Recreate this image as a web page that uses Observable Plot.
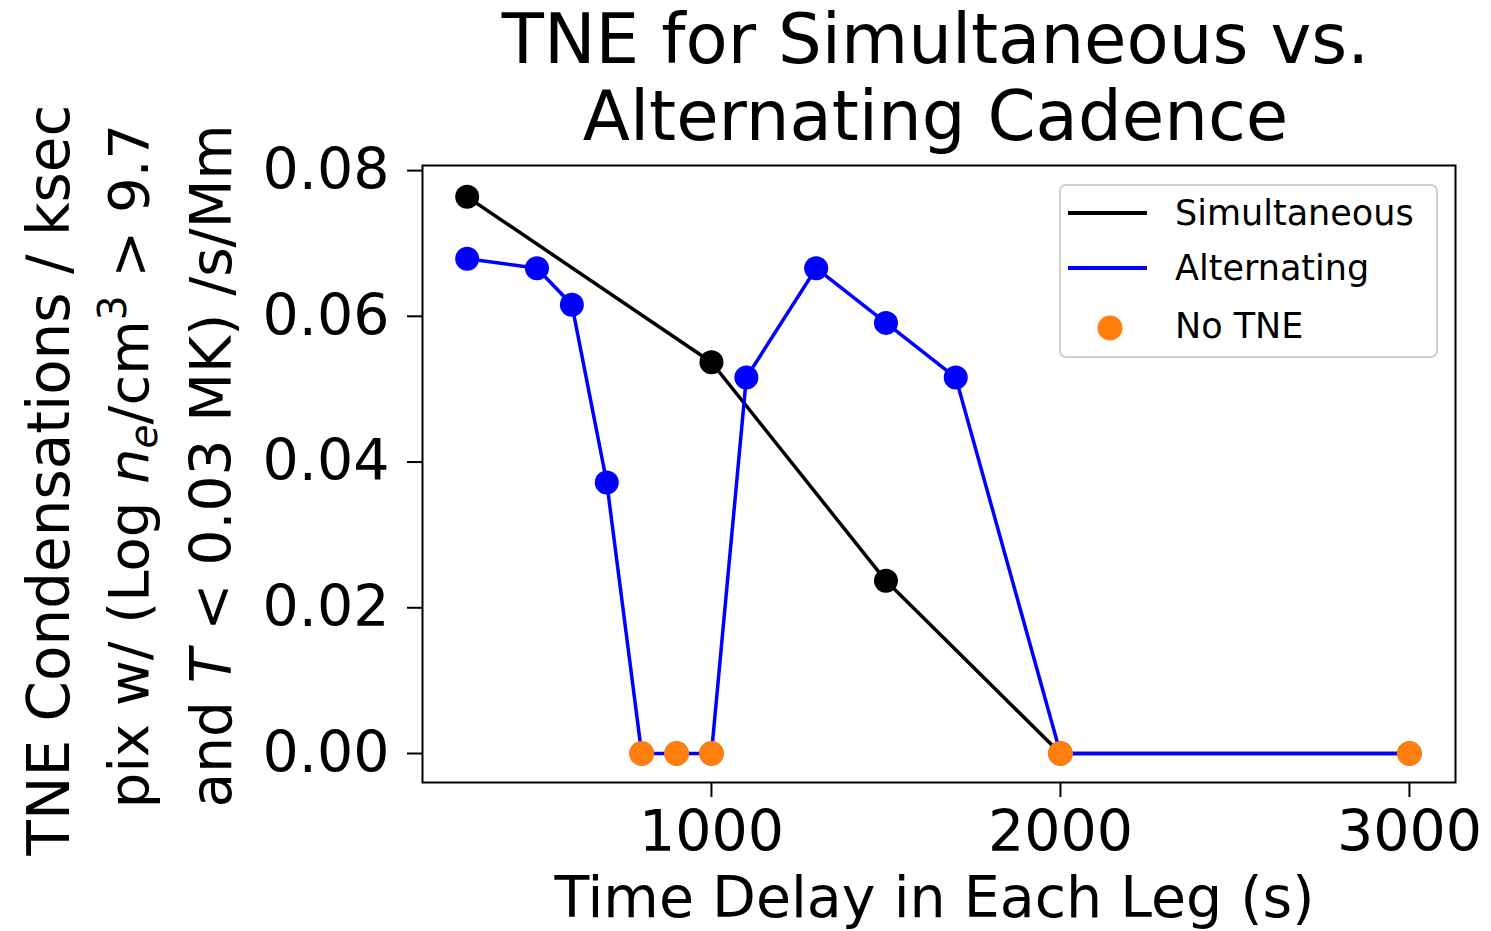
<!DOCTYPE html>
<html>
<head>
<meta charset="utf-8">
<script src="https://cdn.jsdelivr.net/npm/d3@7"></script>
<script src="https://cdn.jsdelivr.net/npm/@observablehq/plot@0.6"></script>
<style>
  html, body { margin: 0; padding: 0; background: #fff; }
  #chart { position: relative; width: 1491px; height: 931px; }
</style>
</head>
<body>
<div id="chart"></div>
<script>
// ---- data ----
const simX = [300, 1000, 1500, 2000, 3000];
const simY = [0.0764, 0.0537, 0.0237, 0, 0];
const altX = [300, 500, 600, 700, 800, 900, 1000, 1100, 1300, 1500, 1700, 2000, 3000];
const altY = [0.0679, 0.0666, 0.0616, 0.0372, 0, 0, 0, 0.0516, 0.0666, 0.0591, 0.0516, 0, 0];
const noX = [800, 900, 1000, 2000, 3000];
const noY = [0, 0, 0, 0, 0];
const xTicks = [1000, 2000, 3000];
const yTicks = [0, 0.02, 0.04, 0.06, 0.08];
const seriesNames = ["Simultaneous", "Alternating", "No TNE"];
const seriesColors = ["#000000", "#0000ff", "#ff7f0e"];
const titleLines = ["TNE for Simultaneous vs.", "Alternating Cadence"];
const xLabel = "Time Delay in Each Leg (s)";

const sim = simX.map((x, i) => ({x, y: simY[i]}));
const alt = altX.map((x, i) => ({x, y: altY[i]}));
const no = noX.map((x, i) => ({x, y: noY[i]}));

const font = "DejaVu Sans";
const W = 1491, H = 931;
const mL = 422, mR = 36, mT = 165, mB = 149;

const plot = Plot.plot({
  width: W,
  height: H,
  marginLeft: mL,
  marginRight: mR,
  marginTop: mT,
  marginBottom: mB,
  style: {fontFamily: font, fontSize: "57px", color: "#000", background: "#fff", overflow: "visible"},
  x: {domain: [172, 3132]},
  y: {domain: [-0.00398, 0.0807]},
  marks: [
    Plot.axisX({ticks: xTicks, tickSize: 15, tickPadding: 13, strokeWidth: 2, tickFormat: d => String(d), label: null, fontSize: 57}),
    Plot.axisY({ticks: yTicks, tickSize: 15, tickPadding: 18, strokeWidth: 2, tickFormat: d3.format(".2f"), label: null, fontSize: 57}),
    Plot.line(sim, {x: "x", y: "y", stroke: seriesColors[0], strokeWidth: 3.5}),
    Plot.dot(sim, {x: "x", y: "y", r: 12, fill: seriesColors[0]}),
    Plot.line(alt, {x: "x", y: "y", stroke: seriesColors[1], strokeWidth: 3.5}),
    Plot.dot(alt, {x: "x", y: "y", r: 12, fill: seriesColors[1]}),
    Plot.dot(no, {x: "x", y: "y", r: 12.5, fill: seriesColors[2]}),
    Plot.frame({stroke: "#000", strokeWidth: 2})
  ]
});
document.getElementById("chart").appendChild(plot);

const svg = d3.select(plot);
const g = svg.append("g").attr("font-family", font).attr("fill", "#000");

// Title
const cx = mL + (W - mL - mR) / 2;
g.append("text").attr("x", cx - 3).attr("y", 63).attr("text-anchor", "middle").attr("font-size", 69).text(titleLines[0]);
g.append("text").attr("x", cx - 3).attr("y", 140).attr("text-anchor", "middle").attr("font-size", 69).text(titleLines[1]);

// X label
g.append("text").attr("x", cx - 4).attr("y", 917).attr("text-anchor", "middle").attr("font-size", 57).text(xLabel);

// Y label (three lines, rotated)
function ylab(bx, yc, fs) {
  return g.append("text")
    .attr("transform", `translate(${bx},${yc}) rotate(-90)`)
    .attr("text-anchor", "middle")
    .attr("font-size", fs);
}
ylab(69, 480, 58).text("TNE Condensations / ksec");
const l2 = ylab(148, 466, 56);
l2.append("tspan").text("pix w/ (Log ");
l2.append("tspan").attr("font-style", "italic").text("n");
l2.append("tspan").attr("font-size", 39).attr("font-style", "italic").attr("dy", 9).text("e");
l2.append("tspan").attr("dy", -9).text("/cm");
l2.append("tspan").attr("font-size", 39).attr("dy", -22).text("3");
l2.append("tspan").attr("dy", 22).text(" > 9.7");
const l3 = ylab(231, 466, 56.5);
l3.append("tspan").text("and ");
l3.append("tspan").attr("font-style", "italic").text("T");
l3.append("tspan").text(" < 0.03 MK) /s/Mm");

// Legend
const lg = svg.append("g").attr("font-family", font);
lg.append("rect").attr("x", 1060).attr("y", 185).attr("width", 377).attr("height", 172)
  .attr("rx", 6).attr("fill", "#fff").attr("fill-opacity", 0.8).attr("stroke", "#d0d0d0").attr("stroke-width", 2);
const rows = [213, 268, 326];
seriesNames.forEach((name, i) => {
  if (i < 2) {
    lg.append("line").attr("x1", 1068).attr("x2", 1147).attr("y1", rows[i]).attr("y2", rows[i])
      .attr("stroke", seriesColors[i]).attr("stroke-width", 4);
  } else {
    lg.append("circle").attr("cx", 1110).attr("cy", rows[i] + 2).attr("r", 12.5).attr("fill", seriesColors[i]);
  }
  lg.append("text").attr("x", 1175).attr("y", rows[i] + 12).attr("text-anchor", "start")
    .attr("font-size", 35).attr("fill", "#000").text(name);
});
</script>
</body>
</html>
